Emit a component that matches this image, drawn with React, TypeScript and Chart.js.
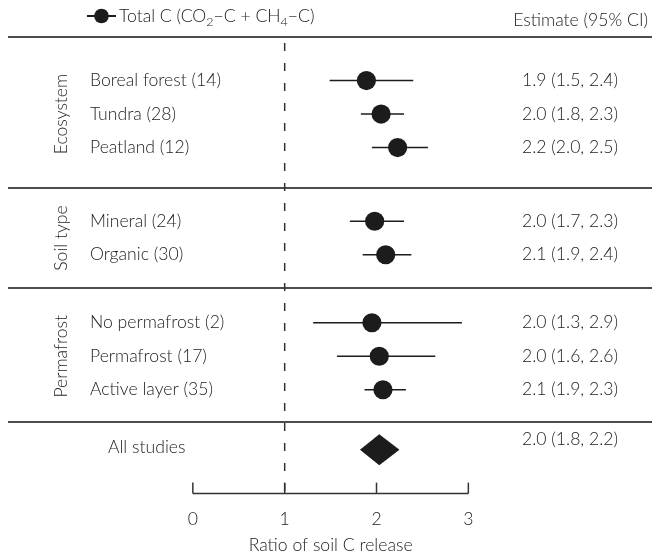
import React, { useEffect, useRef } from 'react';
import { Chart, registerables } from 'chart.js';

Chart.register(...registerables);

// ---------------- data ----------------
const groups = ['Ecosystem', 'Soil type', 'Permafrost'];
const groupSizes = [3, 2, 3];
const categories = [
  'Boreal forest (14)',
  'Tundra (28)',
  'Peatland (12)',
  'Mineral (24)',
  'Organic (30)',
  'No permafrost (2)',
  'Permafrost (17)',
  'Active layer (35)',
];
const estimates = [1.89, 2.05, 2.23, 1.98, 2.1, 1.95, 2.03, 2.07];
const lowerCI = [1.49, 1.83, 1.95, 1.71, 1.85, 1.31, 1.57, 1.87];
const upperCI = [2.4, 2.3, 2.56, 2.3, 2.38, 2.93, 2.64, 2.32];
const estimateLabels = [
  '1.9 (1.5, 2.4)',
  '2.0 (1.8, 2.3)',
  '2.2 (2.0, 2.5)',
  '2.0 (1.7, 2.3)',
  '2.1 (1.9, 2.4)',
  '2.0 (1.3, 2.9)',
  '2.0 (1.6, 2.6)',
  '2.1 (1.9, 2.3)',
];
const overallLabel = 'All studies';
const overallEstimate = 2.03;
const overallLower = 1.82;
const overallUpper = 2.25;
const overallText = '2.0 (1.8, 2.2)';
const xTicks = [0, 1, 2, 3];
const referenceValue = 1;
const xTitle = 'Ratio of soil C release';
const estimateHeader = 'Estimate (95% CI)';

// ---------------- layout (row units) ----------------
const W = 652;
const H = 555;
const HEADER_PX = 37;
const PX_PER_ROW = 33.5;
const sectionPadTop = [1.3, 1.0, 1.03];
const sectionPadBottom = [1.2, 1.0, 0.97];
const overallOffset = 0.82;
const axisOffset = 2.13;

function buildLayout() {
  const rowY: number[] = [];
  const sepY: number[] = [0];
  const groupMid: number[] = [];
  let cursor = 0;
  groupSizes.forEach((n, g) => {
    const first = cursor + sectionPadTop[g];
    for (let i = 0; i < n; i++) rowY.push(first + i);
    groupMid.push(first + (n - 1) / 2);
    cursor = first + n - 1 + sectionPadBottom[g];
    sepY.push(cursor);
  });
  return { rowY, sepY, groupMid, overallY: cursor + overallOffset, axisY: cursor + axisOffset };
}
const L = buildLayout();

const FONT_FAMILY = 'Lato, "Open Sans", sans-serif';
const FONT = `300 17.6px ${FONT_FAMILY}`;
const SUB_FONT = `300 12.5px ${FONT_FAMILY}`;
const TEXT_COLOR = '#222222';
const INK = '#1c1c1c';

const forestPlugin = {
  id: 'forestPlot',
  beforeDatasetsDraw(chart: any) {
    const { ctx, scales } = chart;
    const x = scales.x;
    const y = scales.y;
    ctx.save();
    // separators
    ctx.strokeStyle = '#4d4d4d';
    ctx.lineWidth = 2;
    L.sepY.forEach((v) => {
      const py = Math.round(y.getPixelForValue(v));
      ctx.beginPath();
      ctx.moveTo(8, py);
      ctx.lineTo(W, py);
      ctx.stroke();
    });
    // reference dashed line
    const rx = x.getPixelForValue(referenceValue);
    ctx.strokeStyle = '#333';
    ctx.lineWidth = 1.5;
    ctx.setLineDash([8, 12]);
    ctx.beginPath();
    ctx.moveTo(rx, y.getPixelForValue(0) + 6);
    ctx.lineTo(rx, y.getPixelForValue(L.axisY) - 2);
    ctx.stroke();
    ctx.setLineDash([]);
    // error bars
    ctx.strokeStyle = INK;
    ctx.lineWidth = 1.6;
    categories.forEach((_, i) => {
      const py = y.getPixelForValue(L.rowY[i]);
      ctx.beginPath();
      ctx.moveTo(x.getPixelForValue(lowerCI[i]), py);
      ctx.lineTo(x.getPixelForValue(upperCI[i]), py);
      ctx.stroke();
    });
    // overall diamond
    const oy = y.getPixelForValue(L.overallY);
    const half = 15.5;
    ctx.fillStyle = INK;
    ctx.beginPath();
    ctx.moveTo(x.getPixelForValue(overallLower), oy);
    ctx.lineTo(x.getPixelForValue(overallEstimate), oy - half);
    ctx.lineTo(x.getPixelForValue(overallUpper), oy);
    ctx.lineTo(x.getPixelForValue(overallEstimate), oy + half);
    ctx.closePath();
    ctx.fill();
    // x axis
    const ay = y.getPixelForValue(L.axisY);
    ctx.strokeStyle = '#333';
    ctx.lineWidth = 1.5;
    ctx.beginPath();
    ctx.moveTo(x.getPixelForValue(xTicks[0]), ay);
    ctx.lineTo(x.getPixelForValue(xTicks[xTicks.length - 1]), ay);
    ctx.stroke();
    xTicks.forEach((t) => {
      const px = x.getPixelForValue(t);
      ctx.beginPath();
      ctx.moveTo(px, ay);
      ctx.lineTo(px, ay - 11);
      ctx.stroke();
    });
    ctx.restore();
  },
  afterDatasetsDraw(chart: any) {
    const { ctx, scales } = chart;
    const x = scales.x;
    const y = scales.y;
    ctx.save();
    ctx.fillStyle = TEXT_COLOR;
    ctx.font = FONT;
    ctx.textBaseline = 'middle';
    ctx.textAlign = 'left';
    categories.forEach((c, i) => {
      const py = y.getPixelForValue(L.rowY[i]);
      ctx.fillText(c, 90, py);
      ctx.fillText(estimateLabels[i], 522, py);
    });
    const oy = y.getPixelForValue(L.overallY);
    ctx.fillText(overallLabel, 108, oy - 2);
    ctx.fillText(overallText, 522, oy - 10);
    // group labels
    groups.forEach((g, gi) => {
      ctx.save();
      ctx.translate(61, y.getPixelForValue(L.groupMid[gi]));
      ctx.rotate(-Math.PI / 2);
      ctx.textAlign = 'center';
      ctx.fillText(g, 0, 0);
      ctx.restore();
    });
    // tick labels & title
    const ay = y.getPixelForValue(L.axisY);
    ctx.textAlign = 'center';
    xTicks.forEach((t) => ctx.fillText(String(t), x.getPixelForValue(t), ay + 26));
    ctx.fillText(xTitle, x.getPixelForValue((xTicks[0] + xTicks[xTicks.length - 1]) / 2), ay + 52);
    // header right
    ctx.textAlign = 'right';
    ctx.fillText(estimateHeader, 648, 20);
    // legend
    const ly = 16;
    ctx.strokeStyle = INK;
    ctx.lineWidth = 2;
    ctx.beginPath();
    ctx.moveTo(87, ly);
    ctx.lineTo(116, ly);
    ctx.stroke();
    ctx.fillStyle = INK;
    ctx.beginPath();
    ctx.arc(101.5, ly, 7.3, 0, Math.PI * 2);
    ctx.fill();
    ctx.fillStyle = TEXT_COLOR;
    ctx.textAlign = 'left';
    const parts: [string, boolean][] = [
      ['Total C (CO', false],
      ['2', true],
      ['\u2212C + CH', false],
      ['4', true],
      ['\u2212C)', false],
    ];
    let cx = 119;
    parts.forEach(([t, sub]) => {
      ctx.font = sub ? SUB_FONT : FONT;
      ctx.fillText(t, cx, sub ? ly + 6 : ly);
      cx += ctx.measureText(t).width;
    });
    ctx.restore();
  },
};

export default function App() {
  const canvasRef = useRef<HTMLCanvasElement | null>(null);
  useEffect(() => {
    const canvas = canvasRef.current;
    if (!canvas) return;
    const chart = new Chart(canvas, {
      type: 'scatter',
      data: {
        datasets: [
          {
            label: 'Total C',
            data: estimates.map((e, i) => ({ x: e, y: L.rowY[i] })),
            pointRadius: 9.6,
            pointHoverRadius: 9.6,
            backgroundColor: INK,
            borderWidth: 0,
            clip: false,
          },
        ],
      },
      options: {
        animation: false,
        responsive: false,
        events: [],
        layout: { padding: 0, autoPadding: false },
        plugins: { legend: { display: false }, tooltip: { enabled: false } },
        scales: {
          x: { type: 'linear', display: false, min: -2.1, max: 5.0 },
          y: {
            type: 'linear',
            display: false,
            reverse: true,
            min: -HEADER_PX / PX_PER_ROW,
            max: (H - HEADER_PX) / PX_PER_ROW,
          },
        },
      },
      plugins: [forestPlugin],
    });
    return () => chart.destroy();
  }, []);
  return (
    <div style={{ position: 'absolute', left: 0, top: 0, width: W, height: H, background: '#fff' }}>
      <canvas ref={canvasRef} width={W} height={H} style={{ display: 'block' }} />
    </div>
  );
}
